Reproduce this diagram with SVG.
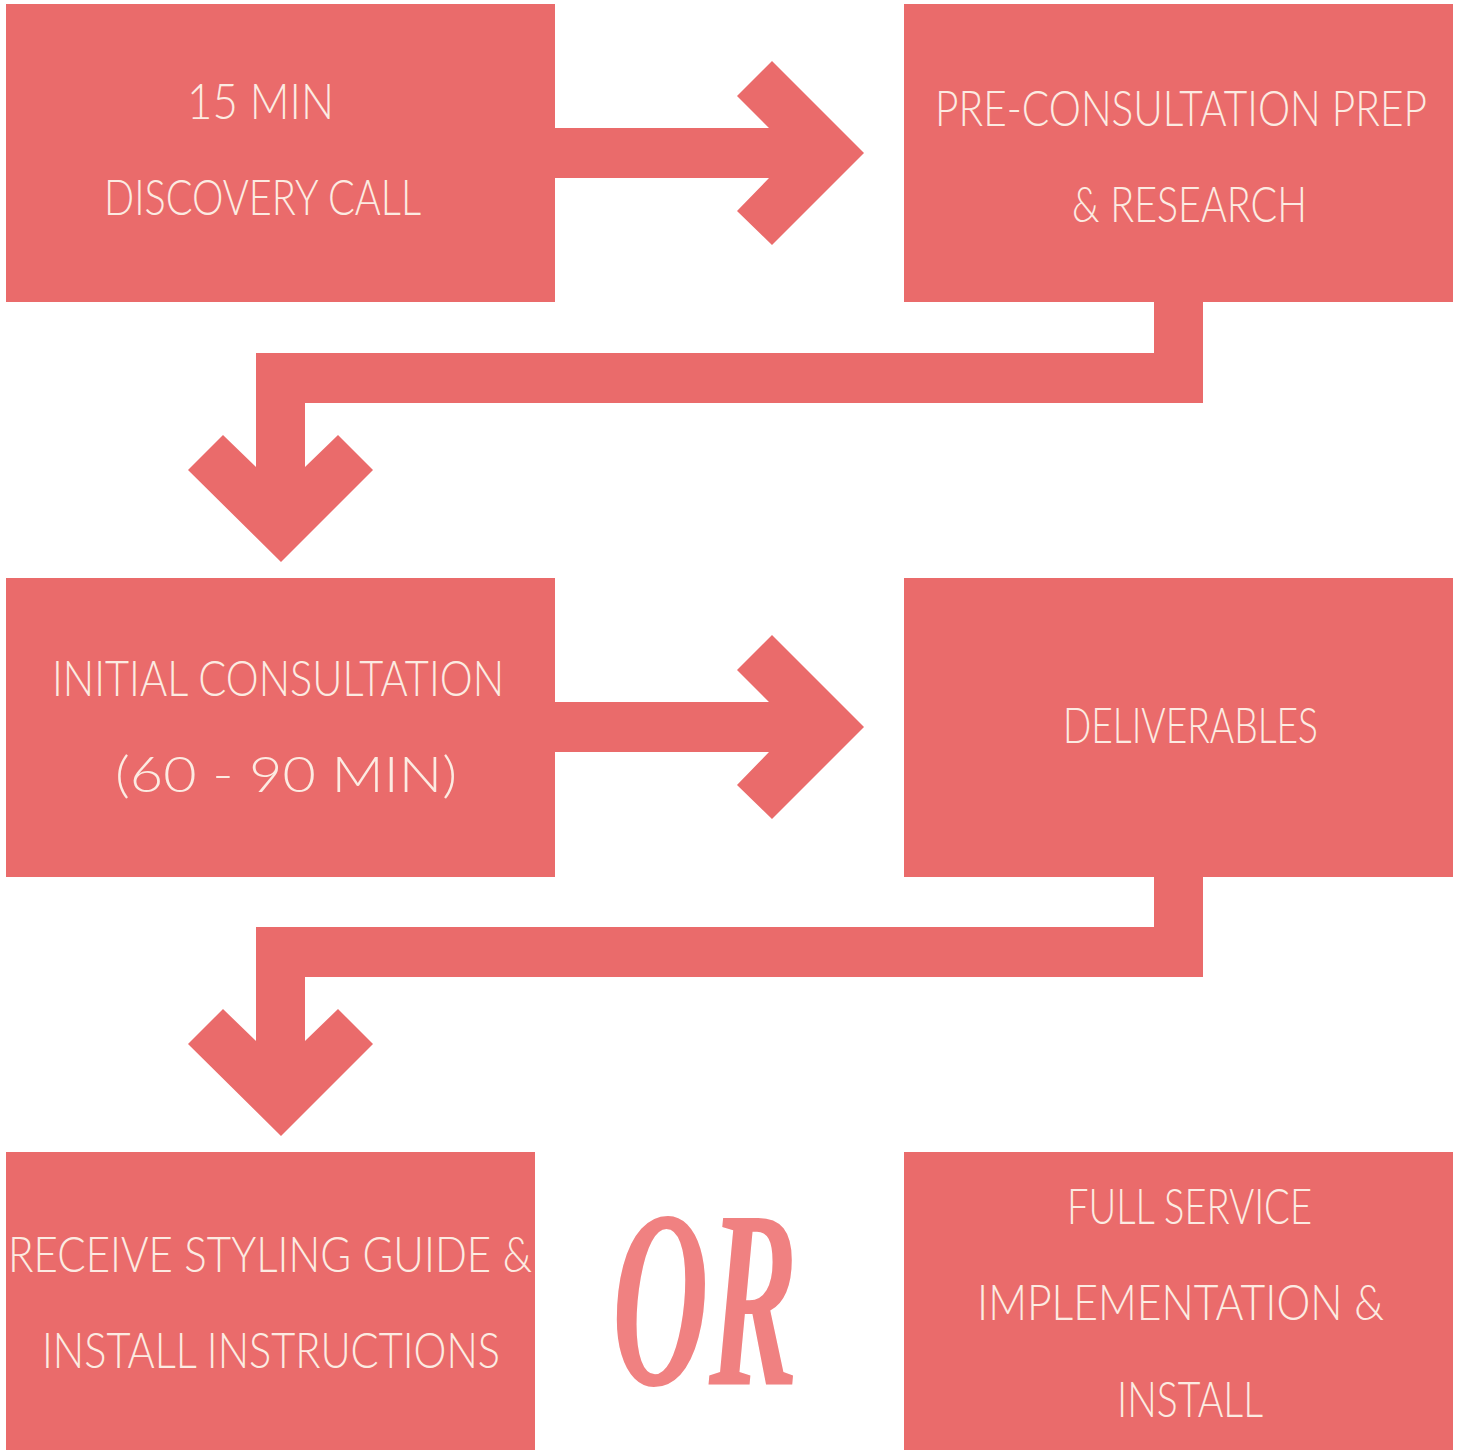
<svg xmlns="http://www.w3.org/2000/svg" width="1465" height="1451" viewBox="0 0 1465 1451">
<style>
.box{fill:#EA6B6B}
.conn{fill:#EA6B6B}
.lbl{fill:#FCEBE2;font-family:Lato,"Open Sans","Liberation Sans",sans-serif;font-weight:300;font-size:50px}
.or{fill:#F08181;font-family:"Liberation Serif","DejaVu Serif",serif;font-style:italic;font-weight:bold;font-size:255px}
</style>
<rect width="1465" height="1451" fill="#FFFFFF"/>
<g id="connectors">
<polygon class="conn" points="555,128 769,128 737,96 772,61 864,153 772,245 737,211 769,178 555,178"/>
<polygon class="conn" points="555,702 769,702 737,670 772,635 864,727 772,819 737,785 769,752 555,752"/>
<polygon class="conn" points="1154,302 1203,302 1203,403 305,403 305,467 338,435 373,470 281,562 188,470 223,435 256,467 256,353 1154,353"/>
<polygon class="conn" points="1154,877 1203,877 1203,977 305,977 305,1041 338,1009 373,1044 281,1136 188,1044 223,1009 256,1041 256,927 1154,927"/>
</g>
<g id="node-discovery">
<rect class="box" x="6" y="4" width="549" height="298"/>
<text class="lbl" x="187" y="119" textLength="147" lengthAdjust="spacingAndGlyphs">15 MIN</text>
<text class="lbl" x="104" y="215" textLength="317" lengthAdjust="spacingAndGlyphs">DISCOVERY CALL</text>
</g>
<g id="node-prep">
<rect class="box" x="904" y="4" width="549" height="298"/>
<text class="lbl" x="935" y="126" textLength="492" lengthAdjust="spacingAndGlyphs">PRE-CONSULTATION PREP</text>
<text class="lbl" x="1072" y="222" textLength="235" lengthAdjust="spacingAndGlyphs">&amp; RESEARCH</text>
</g>
<g id="node-consultation">
<rect class="box" x="6" y="578" width="549" height="299"/>
<text class="lbl" x="52" y="696" textLength="452" lengthAdjust="spacingAndGlyphs">INITIAL CONSULTATION</text>
<text class="lbl" x="115" y="792" textLength="342" lengthAdjust="spacingAndGlyphs">(60 - 90 MIN)</text>
</g>
<g id="node-deliverables">
<rect class="box" x="904" y="578" width="549" height="299"/>
<text class="lbl" x="1063" y="743" textLength="255" lengthAdjust="spacingAndGlyphs">DELIVERABLES</text>
</g>
<g id="node-guide">
<rect class="box" x="6" y="1152" width="529" height="298"/>
<text class="lbl" x="8" y="1272" textLength="524" lengthAdjust="spacingAndGlyphs">RECEIVE STYLING GUIDE &amp;</text>
<text class="lbl" x="42" y="1368" textLength="458" lengthAdjust="spacingAndGlyphs">INSTALL INSTRUCTIONS</text>
</g>
<g id="or-label">
<text class="or" x="612" y="1385" textLength="186" lengthAdjust="spacingAndGlyphs">OR</text>
</g>
<g id="node-fullservice">
<rect class="box" x="904" y="1152" width="549" height="298"/>
<text class="lbl" x="1067" y="1224" textLength="245" lengthAdjust="spacingAndGlyphs">FULL SERVICE</text>
<text class="lbl" x="977" y="1320" textLength="407" lengthAdjust="spacingAndGlyphs">IMPLEMENTATION &amp;</text>
<text class="lbl" x="1117" y="1417" textLength="146" lengthAdjust="spacingAndGlyphs">INSTALL</text>
</g>
</svg>
